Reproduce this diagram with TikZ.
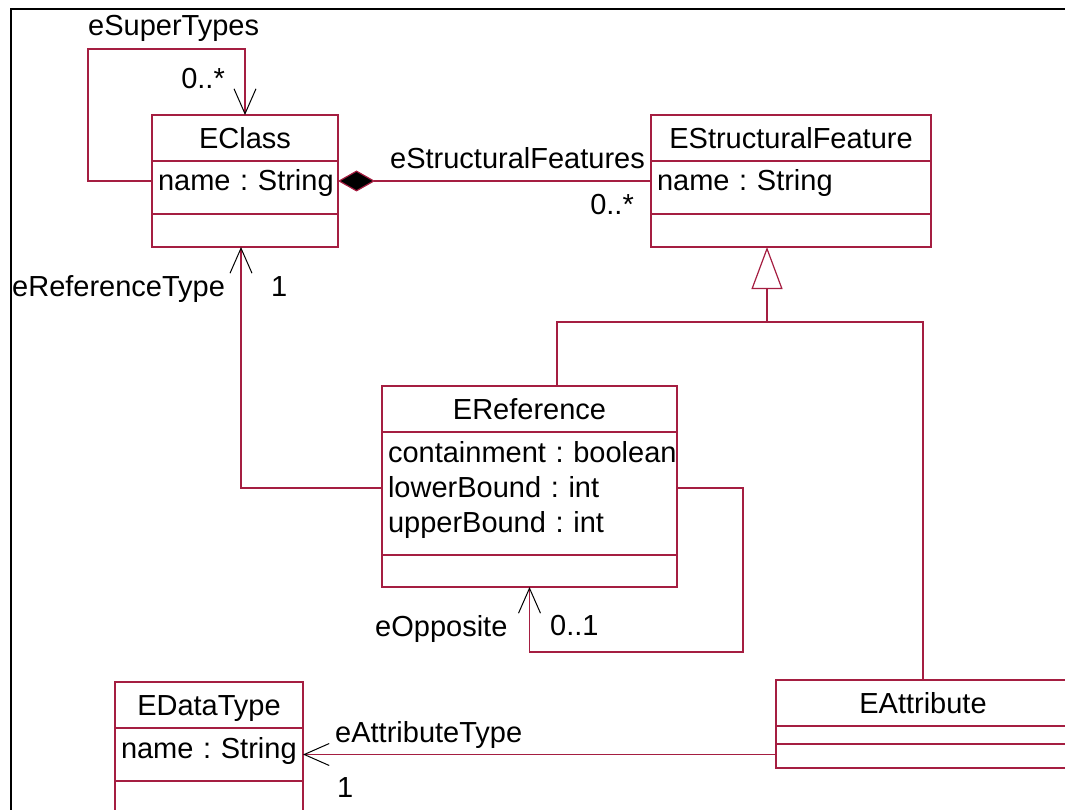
\documentclass[tikz,border=0pt]{standalone}
\usepackage{fontspec}
\setmainfont{Liberation Sans}
\usetikzlibrary{positioning, arrows.meta}
\definecolor{umlred}{RGB}{165,30,65}

\begin{document}
\begin{tikzpicture}
    [x=1pt, y=-1pt,
    font=\fontsize{29}{35}\selectfont\frenchspacing,
    classtitle/.style={rectangle, draw=umlred, line width=1.2pt, outer sep=0pt, inner sep=0pt, minimum height=46pt, text height=21pt, text depth=0pt},
    classattr/.style={rectangle, draw=umlred, line width=1.2pt, outer sep=0pt, inner xsep=6pt, inner ysep=0pt, align=left, text height=30pt},
    classops/.style={rectangle, draw=umlred, line width=1.2pt, outer sep=0pt, inner sep=0pt},
    assoc/.style={draw=umlred, line width=1.2pt},
    navarrow/.style={-{Straight Barb[length=25pt, width=22pt, color=black, line width=1pt]}},
    rolename/.style={inner sep=0pt},]

    \clip (0,0) rectangle (1065,810);

    %Frame
    \draw[black, line width=2pt] (10.5,812) -- (10.5,9.5) -- (1067,9.5);

    %Classes
    \node[classtitle, minimum width=186pt](eclass) at (245,138) {EClass};
    \node[classattr, text width=174pt, text depth=23pt](eclassattr)[below=0pt of eclass] {name~:~String};
    \node[classops, minimum width=186pt, minimum height=33pt](eclassops)[below=0pt of eclassattr] {};

    \node[classtitle, minimum width=280pt](esf)[right=313pt of eclass] {EStructuralFeature};
    \node[classattr, text width=268pt, text depth=23pt](esfattr)[below=0pt of esf] {name~:~String};
    \node[classops, minimum width=280pt, minimum height=33pt](esfops)[below=0pt of esfattr] {};

    \node[classtitle, minimum width=295pt](ereftitle) at (529.5,409) {EReference};
    \node[classattr, text width=283pt, text depth=93pt](erefattr)[below=0pt of ereftitle] {containment~:~boolean\\lowerBound~:~int\\upperBound~:~int};
    \node[classops, minimum width=295pt, minimum height=32pt](erefops)[below=0pt of erefattr] {};

    \node[classtitle, minimum width=188pt](edttitle) at (209,705) {EDataType};
    \node[classattr, text width=176pt, text depth=23pt](edtattr)[below=0pt of edttitle] {name~:~String};
    \node[classops, minimum width=188pt, minimum height=32pt](edtops)[below=0pt of edtattr] {};

    \node[classtitle, minimum width=294pt](eattrtitle) at (923,703) {EAttribute};
    \node[classops, minimum width=294pt, minimum height=18pt](eattrattr)[below=0pt of eattrtitle] {};
    \node[classops, minimum width=294pt, minimum height=24pt](eattrops)[below=0pt of eattrattr] {};

    %Bends
    \coordinate(stcorner) at (88,49);
    \coordinate(oppcorner) at (743,652);
    \coordinate(genjoin) at (767,322);

    %Lines
    \draw[assoc, navarrow]([yshift=6.5pt]eclassattr.west) -| (stcorner) -| (eclass.north);
    \draw[assoc, {Diamond[length=37pt, width=21pt, fill=black]}-]([yshift=6.5pt]eclassattr.east) -- ([yshift=6.5pt]esfattr.west);
    \draw[assoc, navarrow]([yshift=5.5pt]erefattr.west) -| ([xshift=-4pt]eclassops.south);
    \draw[assoc, navarrow]([yshift=5.5pt]erefattr.east) -| (oppcorner) -| (erefops.south);
    \draw[assoc, -{Triangle[length=42pt, width=31pt, fill=white]}]([xshift=27.5pt]ereftitle.north) |- (genjoin) -- ([xshift=-24pt]esfops.south);
    \draw[assoc](eattrtitle.north) |- (genjoin);
    \draw[assoc, navarrow](eattrops.west |- edtattr.east) -- (edtattr.east);

    %Labels
    \node[rolename, anchor=base west](stname) at (88,36) {eSuperTypes};
    \node[rolename, anchor=base east](stmult) at (225,89) {0..*};
    \node[rolename, anchor=base east](sfname) at (645,169) {eStructuralFeatures};
    \node[rolename, anchor=base east](sfmult) at (634,215) {0..*};
    \node[rolename, anchor=base west](rtname) at (12,297) {eReferenceType};
    \node[rolename, anchor=base west](rtmult) at (271,297) {1};
    \node[rolename, anchor=base west](opname) at (375,636) {eOpposite};
    \node[rolename, anchor=base west](opmult) at (550,635) {0..1};
    \node[rolename, anchor=base west](atname) at (335,742) {eAttributeType};
    \node[rolename, anchor=base west](atmult) at (337,797) {1};

\end{tikzpicture}
\end{document}
